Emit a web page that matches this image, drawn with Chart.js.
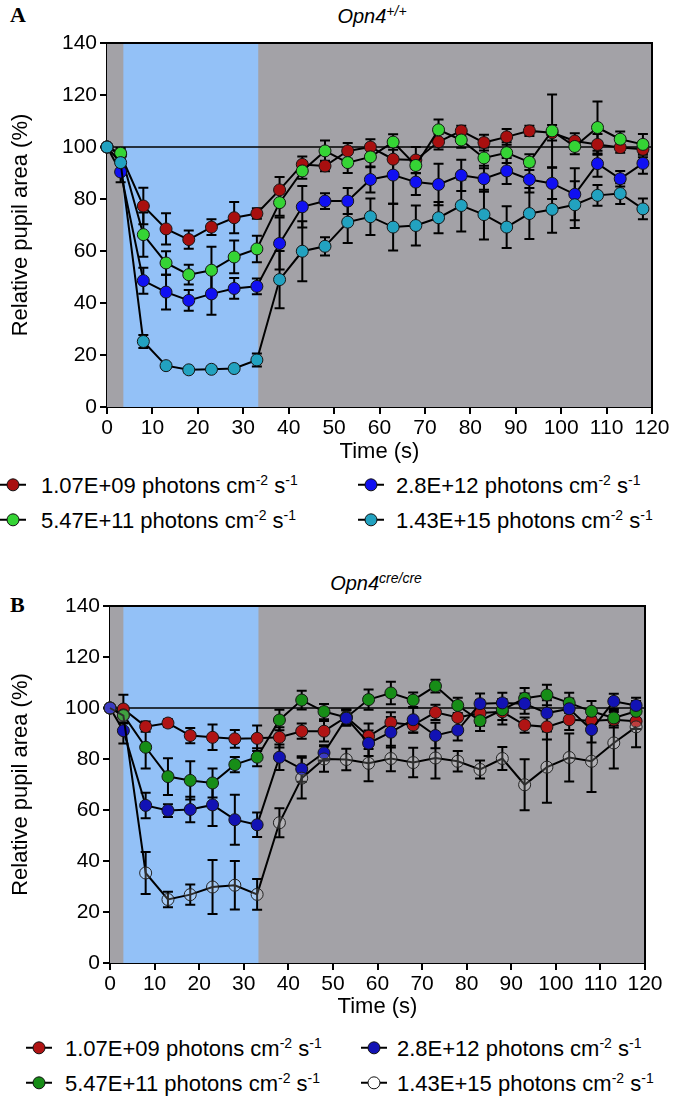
<!DOCTYPE html>
<html>
<head>
<meta charset="utf-8">
<script src="https://cdn.jsdelivr.net/npm/chart.js@4.4.0/dist/chart.umd.min.js"></script>
<style>
  body { margin: 0; width: 677px; height: 1107px; position: relative; background: #fff; overflow: hidden;
         font-family: 'Liberation Sans', Arial, sans-serif; color: #000; }
  canvas { position: absolute; left: 0; }
  .panel { position: absolute; font-family: 'Liberation Serif', 'Times New Roman', serif; font-weight: bold; font-size: 22px; line-height: 1; }
  .ttl { position: absolute; font-style: italic; font-size: 20px; transform: translate(-50%, -50%); white-space: nowrap; line-height: 1; }
  .ttl sup { font-size: 14px; }
  .leg { position: absolute; font-size: 22px; white-space: nowrap; display: flex; align-items: center; transform: translateY(-50%); line-height: 1; }
  .leg sup { font-size: 14px; }
  .leg svg { flex: none; }
</style>
</head>
<body>
<div class="panel" style="left:10px;top:4px">A</div>
<div class="ttl" style="left:372px;top:15px">Opn4<sup>+/+</sup></div>
<canvas id="chartA" width="677" height="470" style="top:0"></canvas>
<div id="legA"></div>

<div class="panel" style="left:10px;top:594px">B</div>
<div class="ttl" style="left:376px;top:582px">Opn4<sup>cre/cre</sup></div>
<canvas id="chartB" width="677" height="485" style="top:540px"></canvas>
<div id="legB"></div>

<script>
// time points (s)
const times = [0, 3, 8, 13, 18, 23, 28, 33, 38, 43, 48, 53, 58, 63, 68, 73, 78, 83, 88, 93, 98, 103, 108, 113, 118];
const seriesLabels = ['1.07E+09', '5.47E+11', '2.8E+12', '1.43E+15'];
const xTicks = [0, 10, 20, 30, 40, 50, 60, 70, 80, 90, 100, 110, 120];
const yTicks = [0, 20, 40, 60, 80, 100, 120, 140];
const lightA = [3.6, 33.3];
const lightB = [3, 33.3];
const baseline = 100;

// panel A, Opn4+/+
const wtDim = [100, 97, 77.3, 68.5, 64.4, 69.2, 72.8, 74.4, 83.5, 93.3, 92.7, 98.5, 100, 95.3, 95, 102, 106.2, 101.7, 103.9, 106.2, 105.5, 102.3, 101, 99.8, 99.1];
const wtDimErr = [0, 2, 7, 6, 3.5, 3, 6, 2, 5, 3, 2, 3, 3, 5, 5, 3, 2, 3, 3, 2, 3, 3, 4, 2, 3];
const wtLow = [100, 97.6, 66.3, 55.4, 50.9, 52.6, 57.7, 60.8, 78.6, 90.8, 98.5, 94, 96.2, 101.9, 92.9, 106.6, 102.7, 95.8, 97.8, 94.2, 106.2, 100.2, 107.5, 103, 101];
const wtLowErr = [0, 2, 8.5, 4.5, 3.8, 9, 6.3, 5.1, 5, 3, 4, 4, 4, 3, 3, 4, 3, 4, 4, 3, 14, 3, 10, 3, 4];
const wtMid = [100, 90.4, 48.6, 44.2, 41, 43.5, 45.6, 46.4, 62.9, 77, 79.2, 79.2, 87.5, 89.2, 86.5, 85.6, 89.1, 87.8, 90.8, 87.5, 86, 81.8, 93.6, 87.8, 93.7];
const wtMidErr = [0, 4, 5, 6.7, 4, 8, 4, 3, 10, 8, 3, 5, 5, 11, 5, 8, 6, 5, 5, 5, 6, 10, 5, 3, 4];
const wtHigh = [100, 94, 25.2, 15.9, 14.3, 14.5, 14.8, 18.1, 49, 59.9, 61.8, 71.1, 73.2, 69.2, 69.8, 72.8, 77.5, 74, 69.2, 74.4, 76, 77.8, 81.4, 82.1, 76.2];
const wtHighErr = [0, 3, 2.5, 1, 1, 1, 1, 2.5, 11, 11.5, 3.5, 8, 7, 9, 7.7, 6, 10, 9.6, 8, 9.8, 9, 9, 4, 4, 4];

// panel B, Opn4cre/cre
const koDim = [100, 99.6, 92.7, 94.1, 89.2, 88.5, 87.9, 88.1, 88.5, 90.9, 90.9, 96.5, 88.9, 94.3, 93.3, 98.3, 96.3, 98, 98.5, 93.3, 92.6, 95.4, 95, 95.4, 94.8];
const koDimErr = [0, 5.6, 2, 1.5, 3, 5, 3.5, 5, 4, 3, 4, 3, 5, 4, 3, 3, 4, 5, 5, 3, 5, 4, 4, 3, 3];
const koLow = [100, 97.3, 84.6, 73.1, 71.6, 70.6, 77.8, 80.7, 95.3, 103.1, 98.6, 96.3, 103.3, 105.9, 103.1, 108.6, 101, 95, 99.3, 103.8, 105.1, 102, 98.7, 96.1, 98.7];
const koLowErr = [0, 3, 8.3, 7.2, 7.5, 5.7, 3, 3.5, 4, 3.7, 3, 3, 4, 4.4, 3, 2.5, 3, 4, 4, 4, 4, 4, 4, 3, 4];
const koMid = [100, 91.1, 61.8, 59.8, 60.2, 62, 56.2, 54.2, 80.7, 76.1, 82.4, 96, 86.2, 90.5, 95.4, 89.2, 91.3, 101.7, 102, 101.7, 98, 99.7, 91.5, 102.6, 101];
const koMidErr = [0, 5, 5, 2.5, 5, 8.3, 9.8, 4.8, 5, 5, 3, 3, 5, 6, 5, 5, 4, 4, 4, 4, 5, 4, 5, 3, 3];
const koHigh = [100, 97, 35.3, 24.9, 26.8, 29.8, 30.5, 26.9, 55, 72.5, 80, 79.8, 78.3, 80.2, 78.6, 80.4, 79.1, 75.9, 80.2, 69.9, 76.8, 80.6, 79.1, 86.3, 92.6];
const koHighErr = [0, 3, 8.2, 3, 4, 10.6, 9.5, 6, 5.7, 8, 5, 4.2, 7, 5, 5.8, 8, 4, 3.5, 4.5, 10, 14, 9.4, 12, 10, 8];

const colorsA = ['#a80f0f', '#35d435', '#1010f2', '#22a2c0'];
const colorsB = ['#b01414', '#178d17', '#1212b4', 'rgba(255,255,255,0.18)'];

const FONT = "'Liberation Sans', Arial, sans-serif";

const panelPlugin = {
  id: 'panel',
  beforeDatasetsDraw(chart, args, opts) {
    const { ctx, chartArea: a, scales: { x, y } } = chart;
    ctx.save();
    ctx.fillStyle = '#a3a2a7';
    ctx.fillRect(a.left, a.top, a.width, a.height);
    const x0 = x.getPixelForValue(opts.light[0]);
    const x1 = x.getPixelForValue(opts.light[1]);
    ctx.fillStyle = '#93c1f7';
    ctx.fillRect(x0, a.top, x1 - x0, a.height);
    // frame top / right
    ctx.strokeStyle = '#000';
    ctx.lineWidth = 2;
    ctx.beginPath();
    ctx.moveTo(a.left, a.top);
    ctx.lineTo(a.right, a.top);
    ctx.lineTo(a.right, a.bottom);
    ctx.stroke();
    // error bars (SEM)
    chart.data.datasets.forEach(ds => {
      if (!ds.err) return;
      ds.data.forEach((p, i) => {
        const e = ds.err[i];
        if (!e) return;
        const px = x.getPixelForValue(p.x);
        const t = y.getPixelForValue(p.y + e);
        const b = y.getPixelForValue(p.y - e);
        ctx.beginPath();
        ctx.moveTo(px, t); ctx.lineTo(px, b);
        ctx.moveTo(px - 5, t); ctx.lineTo(px + 5, t);
        ctx.moveTo(px - 5, b); ctx.lineTo(px + 5, b);
        ctx.stroke();
      });
    });
    ctx.restore();
  }
};

function series(vals, errs, color, order, border) {
  return {
    data: vals.map((v, i) => ({ x: times[i], y: v })),
    err: errs,
    borderColor: '#000',
    borderWidth: 2,
    pointRadius: 6,
    pointBackgroundColor: color,
    pointBorderColor: border || '#151515',
    pointBorderWidth: 1,
    tension: 0,
    clip: false,
    order: order
  };
}

function makeChart(id, sets, colors, light, box) {
  const open = colors.length && colors[3].startsWith('rgba');
  const datasets = [
    { data: [{ x: 0, y: baseline }, { x: 120, y: baseline }], borderColor: '#000', borderWidth: 1.6, pointRadius: 0, order: 10, clip: false },
    series(sets[0][0], sets[0][1], colors[0], 4),
    series(sets[1][0], sets[1][1], colors[1], 3),
    series(sets[2][0], sets[2][1], colors[2], 2),
    series(sets[3][0], sets[3][1], colors[3], 1, open ? '#222' : null)
  ];
  return new Chart(document.getElementById(id), {
    type: 'line',
    data: { datasets },
    plugins: [panelPlugin],
    options: {
      responsive: false,
      animation: false,
      layout: { padding: { top: box.top, right: box.right, left: 0, bottom: 0 } },
      plugins: {
        legend: { display: false },
        tooltip: { enabled: false },
        panel: { light: light }
      },
      scales: {
        x: {
          type: 'linear', min: 0, max: 120,
          afterBuildTicks: s => { s.ticks = xTicks.map(v => ({ value: v })); },
          afterFit: s => { s.height = box.xh; },
          grid: { display: true, drawOnChartArea: false, drawTicks: true, tickLength: 7, color: '#000', lineWidth: 2 },
          border: { display: true, color: '#000', width: 2 },
          ticks: { color: '#000', font: { family: FONT, size: 21 }, padding: 2, maxRotation: 0, autoSkip: false },
          title: { display: true, text: 'Time (s)', color: '#000', font: { family: FONT, size: 22 }, padding: { top: 0, bottom: 5 } }
        },
        y: {
          min: 0, max: 140,
          afterBuildTicks: s => { s.ticks = yTicks.map(v => ({ value: v })); },
          afterFit: s => { s.width = box.yw; },
          grid: { display: true, drawOnChartArea: false, drawTicks: true, tickLength: 7, color: '#000', lineWidth: 2 },
          border: { display: true, color: '#000', width: 2 },
          ticks: { color: '#000', font: { family: FONT, size: 21 }, padding: 3 },
          title: { display: true, text: 'Relative pupil area (%)', color: '#000', font: { family: FONT, size: 22 }, padding: { top: 8, bottom: 0 } }
        }
      }
    }
  });
}

makeChart('chartA',
  [[wtDim, wtDimErr], [wtLow, wtLowErr], [wtMid, wtMidErr], [wtHigh, wtHighErr]],
  colorsA, lightA, { top: 43, right: 25, yw: 107, xh: 63 });

makeChart('chartB',
  [[koDim, koDimErr], [koLow, koLowErr], [koMid, koMidErr], [koHigh, koHighErr]],
  colorsB, lightB, { top: 66, right: 32, yw: 110, xh: 62 });

// legends: column-major, two rows
function legend(el, colors, pos, open) {
  const holder = document.getElementById(el);
  seriesLabels.forEach((lab, i) => {
    const p = pos[i];
    const fill = (open && i === 3) ? '#fff' : colors[i];
    const d = document.createElement('div');
    d.className = 'leg';
    d.style.left = (p[0] - 13) + 'px';
    d.style.top = p[1] + 'px';
    d.innerHTML = '<svg width="26" height="16"><line x1="0" y1="8" x2="26" y2="8" stroke="#000" stroke-width="2"/>' +
      '<circle cx="13" cy="8" r="6" fill="' + fill + '" stroke="#111" stroke-width="1"/></svg>' +
      '<span style="margin-left:' + (p[2] - p[0] - 13) + 'px">' + lab + ' photons cm<sup>-2</sup> s<sup>-1</sup></span>';
    holder.appendChild(d);
  });
}
legend('legA', colorsA, [[13, 485, 41], [13, 520, 41], [371, 485, 396], [371, 520, 396]], false);
legend('legB', colorsB, [[39, 1048, 65], [39, 1083, 65], [374, 1048, 397], [374, 1083, 397]], true);
</script>
</body>
</html>
